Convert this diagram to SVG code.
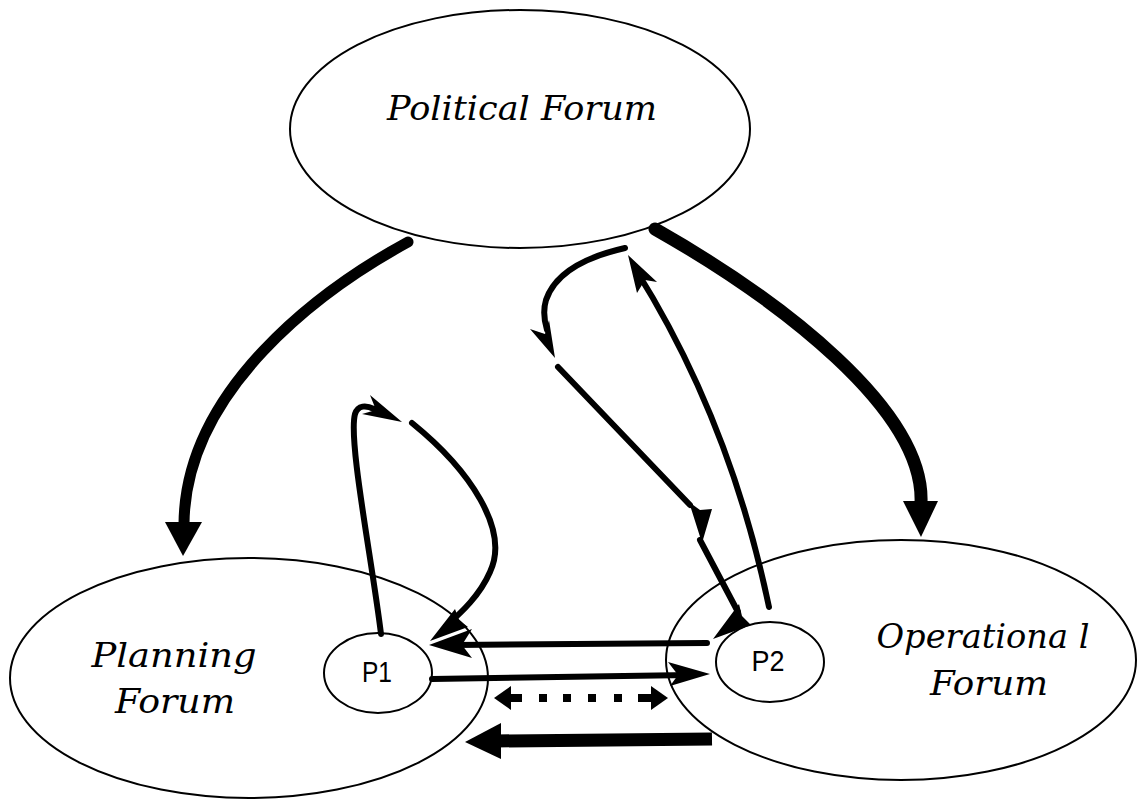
<svg xmlns="http://www.w3.org/2000/svg" width="1137" height="799" viewBox="0 0 1137 799">
<style>
.node{fill:#fff;stroke:#000;stroke-width:2}
.lbl{font-family:"DejaVu Serif","Liberation Serif",serif;font-style:italic;font-size:34px;fill:#000}
.p{font-family:"Liberation Sans","Open Sans",sans-serif;font-size:29px;fill:#000}
.c{fill:none;stroke:#000;stroke-linecap:round}
.h{fill:#000;stroke:none}
</style>
<rect width="1137" height="799" fill="#fff"/>
<g id="political"><ellipse class="node" cx="520" cy="129" rx="230" ry="119"/><text class="lbl" x="522" y="120" text-anchor="middle" textLength="270" lengthAdjust="spacingAndGlyphs">Political Forum</text></g>
<g id="planning"><ellipse class="node" cx="249" cy="678" rx="239" ry="120"/><text class="lbl" x="174" y="667" text-anchor="middle" textLength="165" lengthAdjust="spacingAndGlyphs">Planning</text><text class="lbl" x="175" y="713" text-anchor="middle" textLength="120" lengthAdjust="spacingAndGlyphs">Forum</text></g>
<g id="operational"><ellipse class="node" cx="901" cy="660" rx="235" ry="120"/><text class="lbl" x="983" y="648" text-anchor="middle" textLength="213" lengthAdjust="spacingAndGlyphs">Operationa l</text><text class="lbl" x="989" y="695" text-anchor="middle" textLength="118" lengthAdjust="spacingAndGlyphs">Forum</text></g>
<g id="p1"><ellipse class="node" cx="378" cy="673" rx="54" ry="40"/><text class="p" x="377" y="682" text-anchor="middle" textLength="30" lengthAdjust="spacingAndGlyphs">P1</text></g>
<g id="p2"><ellipse class="node" cx="770" cy="662" rx="54" ry="40"/><text class="p" x="768" y="671" text-anchor="middle" textLength="33" lengthAdjust="spacingAndGlyphs">P2</text></g>
<g id="connectors">
<path class="c" stroke-width="11" d="M408,242 C 320,290 185,390 184,524"/>
<polygon class="h" points="165,522 202,522 183,556"/>
<path class="c" stroke-width="13" d="M655,229 C 780,300 925,410 921,503"/>
<polygon class="h" points="903,501 938,501 921,537"/>
<path class="c" stroke-width="6" d="M381,634 C 372,560 348,440 355,414 C 358,405 366,405 374,409"/>
<polygon class="h" points="402,422 370,395 376,410 362,414"/>
<path class="c" stroke-width="6" d="M412,423 C 470,470 510,530 490,572 C 480,595 462,612 446,626"/>
<polygon class="h" points="430,641 455,609 459,620 468,627"/>
<path class="c" stroke-width="6" d="M707,643 L455,645"/>
<polygon class="h" points="429,645 472,629 462,645 472,658"/>
<path class="c" stroke-width="6" d="M432,679 L690,675"/>
<polygon class="h" points="710,674 668,662 678,675 670,686"/>
<g>
<polygon class="h" points="494,698 511,686 511,710"/>
<rect class="h" x="509" y="694" width="13" height="8"/>
<rect class="h" x="539" y="694" width="8" height="8"/>
<rect class="h" x="563" y="694" width="8" height="8"/>
<rect class="h" x="588" y="694" width="8" height="8"/>
<rect class="h" x="614" y="694" width="8" height="8"/>
<rect class="h" x="638" y="694" width="14" height="8"/>
<polygon class="h" points="668,698 651,686 651,710"/>
</g>
<path stroke="#000" stroke-width="13" fill="none" d="M712,739 L495,741"/>
<polygon class="h" points="465,742 501,723 501,759"/>
<path class="c" stroke-width="6" d="M625,248 C 590,256 556,270 546,300 C 543,310 544,320 547,330"/>
<polygon class="h" points="555,358 530,329 545,334 549,320"/>
<path class="c" stroke-width="6" d="M558,367 L690,505"/>
<polygon class="h" points="702,543 689,502 700,510 712,509"/>
<path class="c" stroke-width="6" d="M700,540 L738,612"/>
<polygon class="h" points="713,639 739,604 742,616 751,625"/>
<path class="c" stroke-width="6" d="M769,607 Q 730,420 636,270"/>
<polygon class="h" points="628,255 657,282 645,280 637,293"/>
</g>
</svg>
